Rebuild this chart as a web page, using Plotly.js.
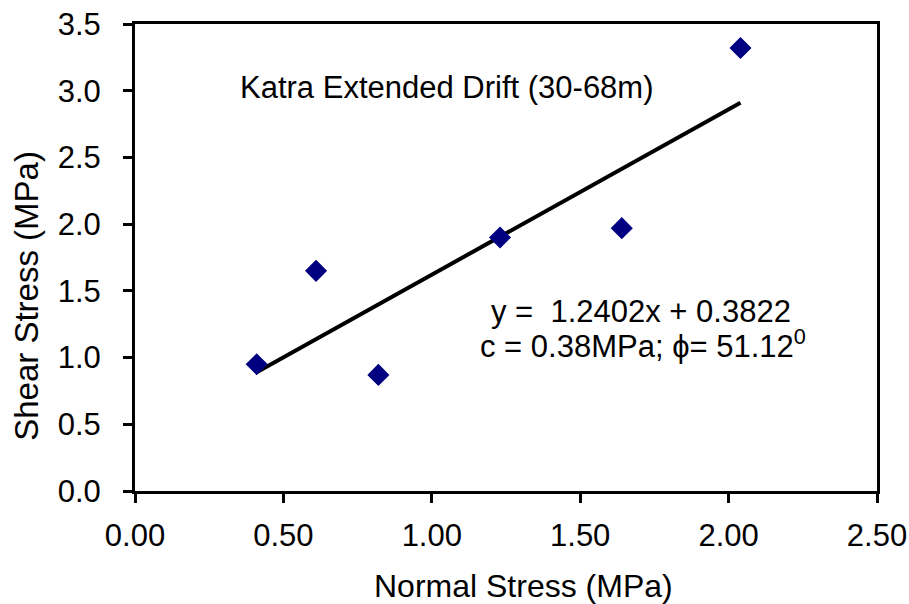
<!DOCTYPE html>
<html>
<head>
<meta charset="utf-8">
<script src="https://cdn.plot.ly/plotly-3.0.1.min.js"></script>
<style>html,body{margin:0;padding:0;background:#fff;}#chart{width:909px;height:604px;}</style>
</head>
<body>
<div id="chart"></div>
<script>
// Data
const normalStress = [0.41, 0.61, 0.82, 1.23, 1.64, 2.04];
const shearStress  = [0.95, 1.65, 0.87, 1.90, 1.97, 3.32];
// Linear trendline endpoints (y = 1.2402x + 0.3822)
const trendX = [0.41, 2.04];
const trendY = [0.89, 2.91];
const xTicks = [0, 0.5, 1, 1.5, 2, 2.5];
const yTicks = [0, 0.5, 1, 1.5, 2, 2.5, 3, 3.5];
const xTitle = "Normal Stress (MPa)";
const yTitle = "Shear Stress (MPa)";
const chartLabel = "Katra Extended Drift (30-68m)";
const eqLine1 = "y =  1.2402x + 0.3822";
const eqLine2 = "c = 0.38MPa; \u03D5= 51.12<sup>0</sup>";

const font = "Liberation Sans, Arial, sans-serif";
const fs = 31;

const traces = [
  {
    x: trendX, y: trendY, mode: "lines", type: "scatter",
    line: {color: "#000000", width: 4}, hoverinfo: "skip", showlegend: false
  },
  {
    x: normalStress, y: shearStress, mode: "markers", type: "scatter",
    marker: {symbol: "diamond", size: 17, color: "#000080"}, showlegend: false
  }
];

const axisCommon = {
  showgrid: false, zeroline: false,
  showline: true, linecolor: "#000000", linewidth: 3, mirror: true,
  ticks: "outside", ticklen: 9, tickwidth: 3, tickcolor: "#000000",
  tickfont: {size: fs, family: font, color: "#000000"}
};

const layout = {
  width: 909, height: 604,
  margin: {l: 135, r: 32, t: 24, b: 113},
  paper_bgcolor: "#ffffff", plot_bgcolor: "#ffffff",
  font: {family: font, color: "#000000"},
  xaxis: Object.assign({}, axisCommon, {
    range: [0, 2.5], tickvals: xTicks, tickformat: ".2f", ticklabelstandoff: 6
  }),
  yaxis: Object.assign({}, axisCommon, {
    range: [0, 3.5], tickvals: yTicks, tickformat: ".1f", ticklabelstandoff: 16
  }),
  annotations: [
    {xref: "paper", yref: "paper", x: 0.524, y: -0.203, xanchor: "center", yanchor: "middle",
     text: xTitle, showarrow: false, font: {size: 32, family: font, color: "#000000"}},
    {xref: "paper", yref: "paper", x: -0.1455, y: 0.418, xanchor: "center", yanchor: "middle",
     textangle: -90, text: yTitle, showarrow: false, font: {size: 33, family: font, color: "#000000"}},
    {xref: "paper", yref: "paper", x: 0.139, y: 0.863, xanchor: "left", yanchor: "middle",
     text: chartLabel, showarrow: false, font: {size: fs, family: font, color: "#000000"}},
    {xref: "paper", yref: "paper", x: 0.887, y: 0.385, xanchor: "right", yanchor: "middle",
     text: eqLine1, showarrow: false, font: {size: fs, family: font, color: "#000000"}},
    {xref: "paper", yref: "paper", x: 0.907, y: 0.315, xanchor: "right", yanchor: "middle",
     text: eqLine2, showarrow: false, font: {size: fs, family: font, color: "#000000"}}
  ]
};

Plotly.newPlot("chart", traces, layout, {displayModeBar: false, staticPlot: true});
</script>
</body>
</html>
